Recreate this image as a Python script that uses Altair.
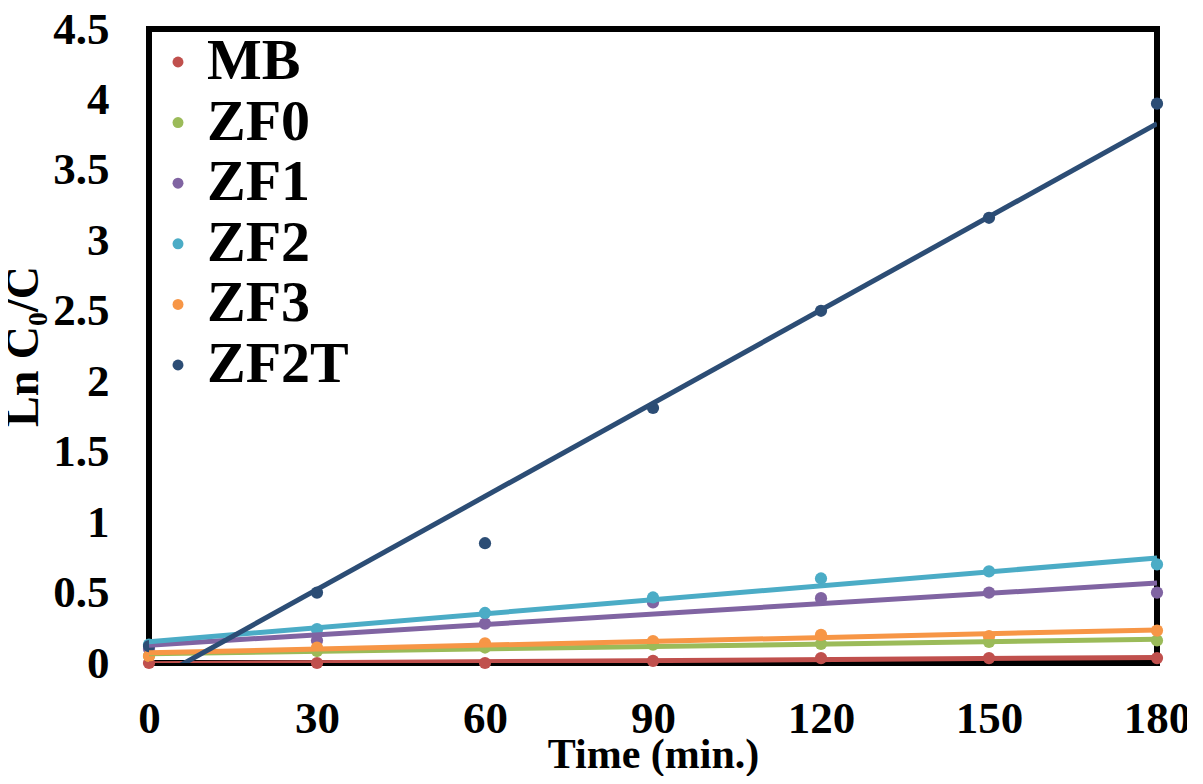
import altair as alt
import pandas as pd

time = [0, 30, 60, 90, 120, 150, 180]
series_names = ["MB", "ZF0", "ZF1", "ZF2", "ZF3", "ZF2T"]
MB = [0.00, 0.00, 0.00, 0.015, 0.035, 0.035, 0.035]
ZF0 = [0.05, 0.085, 0.11, 0.13, 0.135, 0.15, 0.16]
ZF1 = [0.10, 0.16, 0.28, 0.43, 0.46, 0.50, 0.50]
ZF2 = [0.13, 0.24, 0.355, 0.465, 0.60, 0.65, 0.70]
ZF3 = [0.05, 0.11, 0.14, 0.155, 0.20, 0.19, 0.23]
ZF2T = [0.12, 0.50, 0.85, 1.81, 2.50, 3.16, 3.97]
colors = ["#C0504D", "#9BBB59", "#8064A2", "#4BACC6", "#F79646", "#2C4D75"]
x_ticks = [0, 30, 60, 90, 120, 150, 180]
y_ticks = [0, 0.5, 1, 1.5, 2, 2.5, 3, 3.5, 4, 4.5]

rows = []
for name, vals in zip(series_names, [MB, ZF0, ZF1, ZF2, ZF3, ZF2T]):
    for t, v in zip(time, vals):
        rows.append({"series": name, "time": t, "value": v})
df = pd.DataFrame(rows)

FONT = "Liberation Serif"

color = alt.Color(
    "series:N",
    scale=alt.Scale(domain=series_names, range=colors),
    legend=alt.Legend(
        title=None,
        orient="none",
        legendX=0,
        legendY=4,
        symbolType="circle",
        symbolSize=120,
        symbolStrokeWidth=0,
        labelFont=FONT,
        labelFontSize=58,
        labelFontWeight="bold",
        labelColor="black",
        labelOffset=0,
        rowPadding=2.6,
        labelLimit=400,
    ),
)

x = alt.X(
    "time:Q",
    scale=alt.Scale(domain=[0, 180], nice=False),
    axis=alt.Axis(
        values=x_ticks,
        title="Time (min.)",
        ticks=False,
        domain=False,
        grid=False,
        labelFlush=False,
        labelFont=FONT,
        labelFontSize=45,
        labelFontWeight="bold",
        labelColor="black",
        labelPadding=33,
        titleFont=FONT,
        titleFontSize=42,
        titleFontWeight="bold",
        titleColor="black",
        titleBaseline="alphabetic",
        titleY=104,
    ),
)
y = alt.Y(
    "value:Q",
    scale=alt.Scale(domain=[0, 4.5], nice=False),
    axis=alt.Axis(
        values=y_ticks,
        format="~g",
        title="Ln C₀/C",
        ticks=False,
        domain=False,
        grid=False,
        labelFlush=False,
        labelFont=FONT,
        labelFontSize=45,
        labelFontWeight="bold",
        labelColor="black",
        labelPadding=40,
        titleFont=FONT,
        titleFontSize=46,
        titleFontWeight="bold",
        titleColor="black",
        titleX=-102,
        titleY=317,
        titleAngle=-90,
        titleAlign="center",
        titleBaseline="bottom",
    ),
)

points = alt.Chart(df).mark_circle(size=150, opacity=1).encode(x=x, y=y, color=color)

lines = (
    alt.Chart(df)
    .transform_regression("time", "value", groupby=["series"], extent=[0, 180])
    .mark_line(strokeWidth=5, clip=True)
    .encode(
        x=alt.X("time:Q"),
        y=alt.Y("value:Q"),
        color=alt.Color("series:N", scale=alt.Scale(domain=series_names, range=colors), legend=None),
        detail="series:N",
    )
)

chart = (
    alt.layer(points, lines)
    .properties(
        width=1008,
        height=634,
        autosize=alt.AutoSizeParams(type="none"),
        padding={"left": 141, "top": 21, "right": 30, "bottom": 113},
        background="white",
    )
    .configure_view(stroke="black", strokeWidth=6)
)

chart.save("out.html", embed_options={"renderer": "svg", "actions": False})
